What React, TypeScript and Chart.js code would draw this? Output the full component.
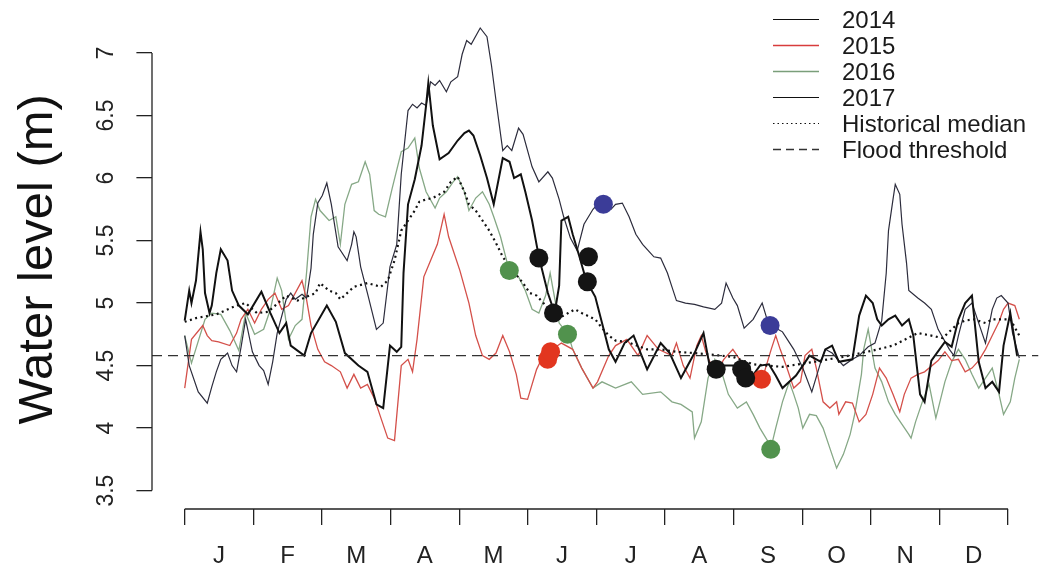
import { useEffect, useRef } from "react";
import { Chart, registerables } from "chart.js";

Chart.register(...registerables);

const FONT = "'Liberation Sans', Arial, Helvetica, sans-serif";

// axes
const MONTH_LABELS = ["J", "F", "M", "A", "M", "J", "J", "A", "S", "O", "N", "D"];
const Y_TICKS = [3.5, 4, 4.5, 5, 5.5, 6, 6.5, 7];
const Y_MIN = 3.353;
const Y_MAX = 7.348;
const X_MIN = -14.5;
const X_MAX = 378.5;
const YEAR_DAYS = 365;
const FLOOD_THRESHOLD = 4.58;

// 2014 (thick black)
const DAYS_2014 = [0, 2, 3, 5, 7, 8, 9, 11, 12, 14, 16, 19, 21, 24, 28, 34, 38, 42, 45, 47, 53, 56, 63, 67, 71, 77, 81, 85, 88, 91, 94, 96, 97, 99, 102, 105, 107, 108, 110, 113, 117, 121, 124, 126, 128, 131, 134, 137, 141, 144, 146, 149, 151, 154, 157, 161, 164, 166, 167, 170, 172, 175, 178, 182, 185, 188, 191, 195, 199, 205, 211, 215, 220, 226, 230, 233, 236, 239, 243, 247, 249, 251, 255, 259, 262, 265, 271, 274, 277, 282, 284, 287, 290, 296, 299, 302, 305, 307, 309, 312, 315, 318, 321, 323, 326, 328, 331, 337, 340, 343, 346, 349, 352, 355, 358, 361, 363, 366, 369];
const LEVEL_2014 = [4.86, 5.1, 5.0, 5.18, 5.57, 5.43, 5.08, 4.92, 4.98, 5.24, 5.43, 5.34, 5.1, 4.98, 4.91, 5.09, 4.92, 4.76, 4.84, 4.66, 4.58, 4.76, 4.98, 4.85, 4.6, 4.5, 4.45, 4.19, 4.16, 4.66, 4.61, 4.65, 5.24, 5.79, 5.99, 6.26, 6.58, 6.76, 6.42, 6.15, 6.2, 6.3, 6.36, 6.38, 6.34, 6.18, 6.0, 5.79, 6.16, 6.13, 6.0, 6.03, 5.89, 5.66, 5.37, 5.08, 4.92, 5.14, 5.66, 5.69, 5.55, 5.37, 5.18, 5.05, 4.84, 4.63, 4.53, 4.68, 4.74, 4.47, 4.68, 4.6, 4.4, 4.6, 4.76, 4.47, 4.47, 4.5, 4.5, 4.47, 4.39, 4.4, 4.5, 4.51, 4.42, 4.32, 4.42, 4.5, 4.58, 4.53, 4.63, 4.66, 4.53, 4.55, 4.9, 5.06, 5.0, 4.87, 4.82, 4.87, 4.9, 4.82, 4.87, 4.74, 4.27, 4.21, 4.54, 4.69, 4.65, 4.87, 5.0, 5.06, 4.53, 4.32, 4.37, 4.29, 4.66, 4.92, 4.58];

// 2015 (red)
const DAYS_2015 = [0, 3, 8, 10, 12, 15, 20, 23, 25, 28, 31, 34, 37, 40, 43, 46, 52, 54, 56, 59, 62, 65, 69, 72, 75, 78, 81, 84, 87, 90, 93, 96, 99, 101, 103, 106, 109, 112, 115, 117, 122, 126, 129, 132, 135, 138, 141, 144, 147, 149, 152, 156, 159, 163, 167, 172, 176, 181, 183, 188, 191, 196, 201, 205, 210, 216, 218, 221, 224, 227, 229, 231, 235, 239, 243, 246, 250, 253, 256, 260, 262, 264, 267, 270, 273, 275, 278, 280, 283, 286, 289, 290, 293, 296, 299, 302, 305, 308, 311, 314, 317, 319, 322, 325, 328, 334, 337, 340, 343, 346, 349, 352, 355, 358, 361, 363, 365, 368, 370];
const LEVEL_2015 = [4.32, 4.71, 4.82, 4.74, 4.7, 4.69, 4.66, 4.76, 4.87, 4.95, 4.84, 4.95, 5.03, 5.08, 4.95, 4.98, 5.18, 5.03, 4.82, 4.63, 4.53, 4.5, 4.45, 4.32, 4.43, 4.32, 4.35, 4.24, 4.08, 3.92, 3.9, 4.5, 4.55, 4.45, 4.71, 5.21, 5.34, 5.47, 5.71, 5.53, 5.26, 5.0, 4.74, 4.58, 4.55, 4.6, 4.74, 4.61, 4.43, 4.24, 4.23, 4.47, 4.58, 4.63, 4.68, 4.63, 4.48, 4.32, 4.37, 4.58, 4.66, 4.71, 4.58, 4.74, 4.63, 4.58, 4.68, 4.5, 4.4, 4.66, 4.74, 4.61, 4.43, 4.55, 4.63, 4.55, 4.45, 4.4, 4.39, 4.63, 4.74, 4.63, 4.48, 4.32, 4.37, 4.58, 4.63, 4.48, 4.21, 4.16, 4.21, 4.11, 4.21, 4.2, 4.05, 4.11, 4.27, 4.48, 4.4, 4.27, 4.13, 4.27, 4.4, 4.43, 4.45, 4.54, 4.61, 4.54, 4.55, 4.45, 4.48, 4.54, 4.63, 4.74, 4.85, 4.95, 5.0, 4.98, 4.87];

// 2016 (green)
const DAYS_2016 = [0, 3, 9, 12, 16, 20, 24, 27, 31, 35, 38, 41, 43, 46, 49, 52, 54, 56, 58, 60, 64, 67, 69, 71, 74, 77, 80, 82, 84, 86, 89, 92, 96, 99, 102, 104, 107, 111, 113, 116, 119, 121, 124, 126, 129, 132, 135, 137, 140, 143, 144, 148, 151, 154, 157, 160, 162, 166, 170, 172, 176, 181, 185, 191, 198, 203, 211, 216, 220, 225, 226, 229, 232, 235, 238, 241, 245, 249, 252, 255, 260, 262, 265, 268, 270, 272, 274, 277, 280, 283, 286, 289, 292, 295, 297, 300, 301, 303, 306, 309, 312, 315, 318, 321, 322, 324, 327, 330, 333, 337, 340, 343, 346, 349, 352, 355, 358, 361, 363, 366, 368, 370];
const LEVEL_2016 = [4.74, 4.52, 4.87, 4.92, 4.91, 4.78, 4.62, 4.92, 4.75, 4.79, 4.95, 5.2, 5.1, 4.71, 4.82, 4.87, 5.24, 5.69, 5.83, 5.74, 5.66, 5.69, 5.47, 5.79, 5.95, 5.97, 6.13, 6.03, 5.74, 5.71, 5.69, 5.92, 6.21, 6.24, 6.32, 6.08, 5.89, 5.76, 5.84, 5.89, 5.97, 6.01, 5.89, 5.74, 5.84, 5.89, 5.79, 5.69, 5.53, 5.32, 5.26, 5.21, 5.1, 4.95, 4.92, 5.06, 5.24, 4.84, 4.75, 4.63, 4.48, 4.32, 4.37, 4.32, 4.37, 4.27, 4.29, 4.21, 4.19, 4.13, 3.92, 4.05, 4.4, 4.55, 4.45, 4.27, 4.16, 4.21, 4.11, 4.0, 3.85, 4.0, 4.21, 4.37, 4.27, 4.16, 4.0, 4.11, 4.1, 4.0, 3.84, 3.68, 3.79, 3.95, 4.11, 4.43, 4.63, 4.79, 4.48, 4.37, 4.21, 4.11, 4.03, 3.95, 3.92, 4.05, 4.21, 4.35, 4.08, 4.37, 4.53, 4.63, 4.55, 4.43, 4.32, 4.4, 4.48, 4.27, 4.11, 4.21, 4.4, 4.55];

// 2017 (thin dark)
const DAYS_2017 = [0, 2, 6, 10, 12, 14, 16, 19, 21, 23, 25, 27, 30, 33, 35, 37, 39, 41, 45, 47, 49, 52, 54, 56, 57, 59, 61, 63, 65, 68, 72, 74, 75, 76, 78, 81, 85, 88, 91, 94, 96, 99, 101, 103, 105, 107, 109, 111, 113, 116, 118, 121, 123, 125, 127, 131, 134, 136, 138, 141, 143, 145, 148, 150, 154, 157, 161, 163, 166, 168, 171, 174, 177, 181, 183, 186, 189, 191, 194, 197, 200, 203, 206, 208, 211, 214, 216, 218, 222, 226, 230, 235, 238, 240, 243, 245, 248, 252, 256, 258, 260, 265, 270, 274, 278, 282, 284, 287, 292, 296, 299, 303, 306, 309, 311, 312, 314, 315, 317, 318, 320, 321, 325, 328, 331, 334, 339, 341, 343, 346, 349, 352, 355, 358, 360, 362, 365, 367, 370];
const LEVEL_2017 = [4.74, 4.5, 4.29, 4.2, 4.33, 4.45, 4.55, 4.6, 4.5, 4.45, 4.65, 4.87, 4.61, 4.5, 4.46, 4.35, 4.53, 4.76, 5.03, 5.08, 5.03, 5.07, 5.04, 5.28, 5.55, 5.8, 5.86, 5.96, 5.79, 5.45, 5.34, 5.47, 5.57, 5.53, 5.29, 5.08, 4.79, 4.84, 5.29, 5.47, 6.03, 6.54, 6.59, 6.56, 6.6, 6.58, 6.77, 6.74, 6.78, 6.69, 6.77, 6.81, 6.99, 7.1, 7.07, 7.2, 7.13, 6.9, 6.62, 6.22, 6.26, 6.22, 6.4, 6.35, 6.09, 5.97, 6.05, 6.0, 5.83, 5.69, 5.52, 5.42, 5.63, 5.75, 5.79, 5.79, 5.75, 5.79, 5.8, 5.69, 5.55, 5.47, 5.41, 5.37, 5.36, 5.24, 5.13, 5.02, 5.0, 4.99, 4.97, 4.95, 5.0, 5.16, 5.04, 4.98, 4.8, 4.87, 5.0, 4.88, 4.82, 4.77, 4.63, 4.48, 4.29, 4.53, 4.63, 4.6, 4.5, 4.55, 4.58, 4.65, 4.68, 4.86, 5.24, 5.58, 5.83, 5.95, 5.87, 5.63, 5.32, 5.1, 5.04, 5.0, 4.95, 4.79, 4.63, 4.58, 4.74, 4.95, 5.0, 4.84, 4.68, 4.95, 5.04, 5.06, 5.0, 4.76, 4.56];

// historical median (dotted)
const DAYS_MEDIAN = [0, 5, 14, 23, 27, 32, 37, 45, 50, 58, 60, 64, 67, 69, 72, 75, 81, 87, 90, 93, 96, 99, 102, 104, 107, 110, 115, 118, 121, 124, 126, 129, 135, 138, 141, 144, 150, 153, 156, 159, 165, 170, 173, 176, 182, 185, 188, 191, 196, 205, 211, 218, 226, 232, 243, 252, 265, 279, 292, 305, 314, 325, 331, 336, 343, 346, 350, 355, 358, 366, 370];
const LEVEL_MEDIAN = [4.85, 4.88, 4.91, 4.98, 5.0, 4.92, 4.93, 5.06, 5.02, 5.08, 5.16, 5.1, 5.08, 5.03, 5.08, 5.13, 5.16, 5.13, 5.18, 5.34, 5.58, 5.66, 5.74, 5.81, 5.83, 5.84, 5.89, 5.97, 6.01, 5.89, 5.79, 5.74, 5.58, 5.48, 5.37, 5.29, 5.16, 5.08, 5.06, 5.0, 4.87, 4.92, 4.95, 4.92, 4.87, 4.8, 4.74, 4.7, 4.69, 4.63, 4.63, 4.61, 4.6, 4.59, 4.57, 4.51, 4.49, 4.53, 4.57, 4.62, 4.66, 4.76, 4.74, 4.72, 4.84, 4.86, 4.87, 4.84, 4.87, 4.87, 4.74];

// marked dates
const MARK_DAYS_2014 = [157, 163.5, 179, 178.5, 235.6, 246.9, 248.7];
const MARK_LEVEL_2014 = [5.36, 4.92, 5.37, 5.17, 4.47, 4.47, 4.4];
const MARK_DAYS_2015 = [160.9, 162.2, 255.7];
const MARK_LEVEL_2015 = [4.55, 4.61, 4.39];
const MARK_DAYS_2016 = [143.9, 169.7, 259.8];
const MARK_LEVEL_2016 = [5.26, 4.75, 3.83];
const MARK_DAYS_2017 = [185.6, 259.5];
const MARK_LEVEL_2017 = [5.79, 4.82];

const LEGEND_LABELS = ["2014", "2015", "2016", "2017", "Historical median", "Flood threshold"];

const pts = (xs: number[], ys: number[]) => xs.map((x, i) => ({ x, y: ys[i] }));

const X_TICK_VALUES: number[] = [];
for (let i = 0; i <= 12; i++) {
  X_TICK_VALUES.push((i * YEAR_DAYS) / 12);
  if (i < 12) X_TICK_VALUES.push(((i + 0.5) * YEAR_DAYS) / 12);
}

const rStylePlugin = {
  id: "rStyle",
  afterDraw(chart: any) {
    const { ctx, chartArea, scales } = chart;
    const xs = scales.x;
    const ys = scales.y;
    ctx.save();
    ctx.strokeStyle = "#222";
    ctx.lineWidth = 1.3;
    ctx.setLineDash([]);
    ctx.beginPath();
    ctx.moveTo(chartArea.left, ys.getPixelForValue(Y_TICKS[0]));
    ctx.lineTo(chartArea.left, ys.getPixelForValue(Y_TICKS[Y_TICKS.length - 1]));
    ctx.moveTo(xs.getPixelForValue(0), chartArea.bottom);
    ctx.lineTo(xs.getPixelForValue(YEAR_DAYS), chartArea.bottom);
    ctx.stroke();

    // legend
    const lineX0 = 773;
    const lineX1 = 819;
    const textX = 842;
    const rowY0 = 19.5;
    const rowGap = 26;
    ctx.font = `24px ${FONT}`;
    ctx.textBaseline = "middle";
    ctx.textAlign = "left";
    LEGEND_LABELS.forEach((label, i) => {
      const ds = chart.data.datasets.find((d: any) => d.label === label);
      if (!ds) return;
      const y = rowY0 + i * rowGap;
      ctx.strokeStyle = ds.legendColor || ds.borderColor;
      ctx.lineWidth = ds.legendWidth || 1.6;
      ctx.setLineDash(ds.legendDash || []);
      ctx.beginPath();
      ctx.moveTo(lineX0, y);
      ctx.lineTo(lineX1, y);
      ctx.stroke();
      ctx.fillStyle = "#1a1a1a";
      ctx.fillText(label, textX, y + 2);
    });
    ctx.restore();
  },
};

export default function App() {
  const ref = useRef<HTMLCanvasElement | null>(null);

  useEffect(() => {
    if (!ref.current) return;
    const lineBase = { pointRadius: 0, tension: 0, fill: false, showLine: true };
    const marker = (xs: number[], ys: number[], color: string, label: string) => ({
      label,
      data: pts(xs, ys),
      showLine: false,
      pointRadius: 9.5,
      pointBackgroundColor: color,
      pointBorderColor: color,
      pointBorderWidth: 0,
      order: 0,
    });
    const chart = new Chart(ref.current, {
      type: "line",
      data: {
        datasets: [
          marker(MARK_DAYS_2014, MARK_LEVEL_2014, "#141414", "m2014"),
          marker(MARK_DAYS_2015, MARK_LEVEL_2015, "#e2361f", "m2015"),
          marker(MARK_DAYS_2016, MARK_LEVEL_2016, "#51924d", "m2016"),
          marker(MARK_DAYS_2017, MARK_LEVEL_2017, "#3b3c98", "m2017"),
          {
            ...lineBase,
            label: "Flood threshold",
            data: [
              { x: X_MIN, y: FLOOD_THRESHOLD },
              { x: X_MAX, y: FLOOD_THRESHOLD },
            ],
            borderColor: "#333",
            borderWidth: 1.3,
            borderDash: [10, 6],
            legendDash: [8, 5],
            legendWidth: 1.3,
            order: 1,
          },
          {
            ...lineBase,
            label: "2014",
            data: pts(DAYS_2014, LEVEL_2014),
            borderColor: "#111",
            borderWidth: 2,
            legendWidth: 1.2,
            order: 2,
          },
          {
            ...lineBase,
            label: "Historical median",
            data: pts(DAYS_MEDIAN, LEVEL_MEDIAN),
            borderColor: "#111",
            borderWidth: 2.2,
            borderDash: [2, 3.5],
            legendWidth: 1.2,
            legendDash: [1.5, 3],
            order: 3,
          },
          {
            ...lineBase,
            label: "2017",
            data: pts(DAYS_2017, LEVEL_2017),
            borderColor: "#2c2c3c",
            borderWidth: 1.2,
            legendColor: "#111",
            legendWidth: 1.2,
            order: 4,
          },
          {
            ...lineBase,
            label: "2015",
            data: pts(DAYS_2015, LEVEL_2015),
            borderColor: "#d4504a",
            borderWidth: 1.3,
            legendColor: "#d83c3c",
            order: 5,
          },
          {
            ...lineBase,
            label: "2016",
            data: pts(DAYS_2016, LEVEL_2016),
            borderColor: "#86a886",
            borderWidth: 1.3,
            legendColor: "#7a9e7a",
            order: 6,
          },
        ] as any,
      },
      options: {
        animation: false,
        responsive: false,
        events: [],
        layout: { padding: { top: 2, right: 0, left: 0, bottom: 0 } },
        plugins: { legend: { display: false }, tooltip: { enabled: false } },
        scales: {
          x: {
            type: "linear",
            min: X_MIN,
            max: X_MAX,
            afterBuildTicks: (s: any) => {
              s.ticks = X_TICK_VALUES.map((v) => ({ value: v }));
            },
            afterFit: (s: any) => {
              s.height = 63;
              s.paddingLeft = 0;
              s.paddingRight = 0;
            },
            ticks: {
              autoSkip: false,
              maxRotation: 0,
              minRotation: 0,
              padding: 17,
              color: "#222",
              font: { size: 24, family: FONT },
              callback: (_v: any, i: number) => (i % 2 === 1 ? MONTH_LABELS[(i - 1) / 2] : ""),
            },
            grid: {
              display: true,
              drawOnChartArea: false,
              drawTicks: true,
              tickLength: 16,
              lineWidth: 1.3,
              tickColor: (c: any) => (c.index % 2 === 0 ? "#222" : "rgba(0,0,0,0)"),
            },
            border: { display: false },
          },
          y: {
            type: "linear",
            min: Y_MIN,
            max: Y_MAX,
            afterBuildTicks: (s: any) => {
              s.ticks = Y_TICKS.map((v) => ({ value: v }));
            },
            afterFit: (s: any) => {
              s.width = 152;
              s.paddingTop = 0;
              s.paddingBottom = 0;
            },
            ticks: {
              minRotation: 90,
              maxRotation: 90,
              crossAlign: "center",
              padding: 14,
              color: "#222",
              font: { size: 23, family: FONT },
              callback: (v: any) => String(v),
            },
            grid: {
              display: true,
              drawOnChartArea: false,
              drawTicks: true,
              tickLength: 15.6,
              lineWidth: 1.3,
              tickColor: "#222",
            },
            border: { display: false },
            title: {
              display: true,
              text: "Water level (m)",
              color: "#111",
              font: { size: 49, family: FONT },
              padding: { top: 9, bottom: 0 },
            },
          },
        },
      } as any,
      plugins: [rStylePlugin],
    });
    return () => chart.destroy();
  }, []);

  return (
    <div style={{ position: "fixed", left: 0, top: 0, width: 1048, height: 572, background: "#fff" }}>
      <canvas ref={ref} width={1048} height={572} style={{ display: "block" }} />
    </div>
  );
}
